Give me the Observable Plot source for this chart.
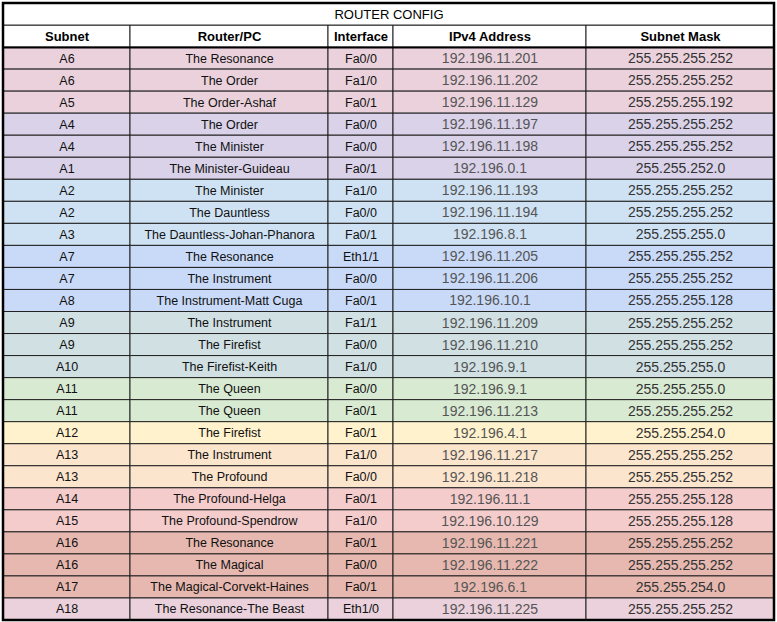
<!DOCTYPE html>
<html><head><meta charset="utf-8">
<script src="https://cdn.jsdelivr.net/npm/d3@7"></script>
<script src="https://cdn.jsdelivr.net/npm/@observablehq/plot@0.6"></script>
<style>body{margin:0;background:#fff}</style>
</head><body><div id="chart"></div>
<script>
const title = "ROUTER CONFIG";
const headers = ["Subnet", "Router/PC", "Interface", "IPv4 Address", "Subnet Mask"];
const colEdges = [0, 127, 325, 390, 583, 771];
const subnets = ["A6","A6","A5","A4","A4","A1","A2","A2","A3","A7","A7","A8","A9","A9","A10","A11","A11","A12","A13","A13","A14","A15","A16","A16","A17","A18"];
const routers = ["The Resonance","The Order","The Order-Ashaf","The Order","The Minister","The Minister-Guideau","The Minister","The Dauntless","The Dauntless-Johan-Phanora","The Resonance","The Instrument","The Instrument-Matt Cuga","The Instrument","The Firefist","The Firefist-Keith","The Queen","The Queen","The Firefist","The Instrument","The Profound","The Profound-Helga","The Profound-Spendrow","The Resonance","The Magical","The Magical-Corvekt-Haines","The Resonance-The Beast"];
const interfaces = ["Fa0/0","Fa1/0","Fa0/1","Fa0/0","Fa0/0","Fa0/1","Fa1/0","Fa0/0","Fa0/1","Eth1/1","Fa0/0","Fa0/1","Fa1/1","Fa0/0","Fa1/0","Fa0/0","Fa0/1","Fa0/1","Fa1/0","Fa0/0","Fa0/1","Fa1/0","Fa0/1","Fa0/0","Fa0/1","Eth1/0"];
const ips = ["192.196.11.201","192.196.11.202","192.196.11.129","192.196.11.197","192.196.11.198","192.196.0.1","192.196.11.193","192.196.11.194","192.196.8.1","192.196.11.205","192.196.11.206","192.196.10.1","192.196.11.209","192.196.11.210","192.196.9.1","192.196.9.1","192.196.11.213","192.196.4.1","192.196.11.217","192.196.11.218","192.196.11.1","192.196.10.129","192.196.11.221","192.196.11.222","192.196.6.1","192.196.11.225"];
const masks = ["255.255.255.252","255.255.255.252","255.255.255.192","255.255.255.252","255.255.255.252","255.255.252.0","255.255.255.252","255.255.255.252","255.255.255.0","255.255.255.252","255.255.255.252","255.255.255.128","255.255.255.252","255.255.255.252","255.255.255.0","255.255.255.0","255.255.255.252","255.255.254.0","255.255.255.252","255.255.255.252","255.255.255.128","255.255.255.128","255.255.255.252","255.255.255.252","255.255.254.0","255.255.255.252"];
const rowColors = ["#ead1dc","#ead1dc","#ead1dc","#d9d2e9","#d9d2e9","#d9d2e9","#cfe2f3","#cfe2f3","#cfe2f3","#c9daf8","#c9daf8","#c9daf8","#d0e0e3","#d0e0e3","#d0e0e3","#d9ead3","#d9ead3","#fff2cc","#fce5cd","#fce5cd","#f4cccc","#f4cccc","#e6b8af","#e6b8af","#e6b8af","#ead1dc"];

const cols = [subnets, routers, interfaces, ips, masks];
const cells = [];
cols.forEach((vals, c) => vals.forEach((v, r) => cells.push({
  c, r: r + 2, text: v, fill: rowColors[r]
})));
const heads = headers.map((h, c) => ({c, r: 1, text: h}));
const nRows = subnets.length + 2;

const chart = Plot.plot({
  width: 777, height: 622,
  margin: 0,
  x: {domain: [0, 771], range: [3, 774], axis: null},
  y: {domain: [0, nRows], range: [3, 620], axis: null},
  style: {fontFamily: "'Liberation Sans', Arial, sans-serif"},
  marks: [
    Plot.rect(cells, {x1: d => colEdges[d.c], x2: d => colEdges[d.c + 1], y1: "r", y2: d => d.r + 1,
      fill: "fill", stroke: "#222", strokeWidth: 1}),
    Plot.rect(heads, {x1: d => colEdges[d.c], x2: d => colEdges[d.c + 1], y1: "r", y2: d => d.r + 1,
      fill: "#fff", stroke: "#222", strokeWidth: 1}),
    Plot.rect([0], {x1: 0, x2: 771, y1: 0, y2: 1, fill: "#fff", stroke: "#222", strokeWidth: 1}),
    Plot.text(cells.filter(d => d.c < 3), {x: d => (colEdges[d.c] + colEdges[d.c + 1]) / 2, y: d => d.r + 0.5,
      text: "text", fontSize: 12.5, fill: "#111"}),
    Plot.text(cells.filter(d => d.c >= 3), {x: d => (colEdges[d.c] + colEdges[d.c + 1]) / 2, y: d => d.r + 0.5,
      text: "text", fontSize: 14, fill: d => d.c === 3 ? "#555" : "#333"}),
    Plot.text(heads, {x: d => (colEdges[d.c] + colEdges[d.c + 1]) / 2, y: 1.5, text: "text",
      fontSize: 13, fontWeight: "bold", fill: "#000"}),
    Plot.text([title], {x: 385.5, y: 0.5, text: d => d, fontSize: 13, fill: "#000"}),
    Plot.ruleY([2], {x1: 0, x2: 771, stroke: "#000", strokeWidth: 2}),
    Plot.rect([0], {x1: 0, x2: 771, y1: 0, y2: nRows, fill: "none", stroke: "#000", strokeWidth: 2.5})
  ]
});
document.getElementById("chart").appendChild(chart);
</script></body></html>
